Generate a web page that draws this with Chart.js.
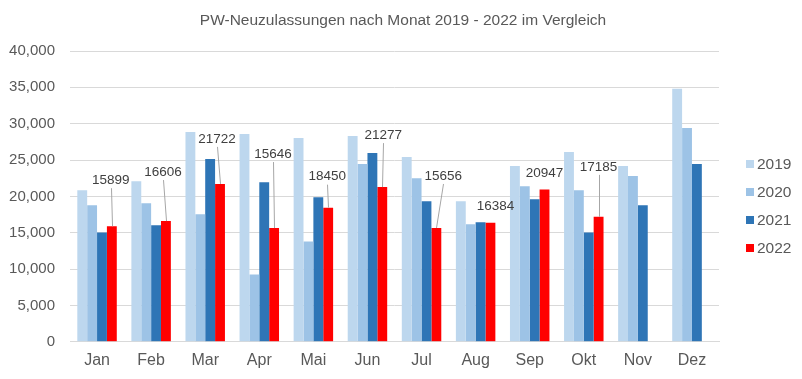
<!DOCTYPE html>
<html>
<head>
<meta charset="utf-8">
<script src="https://cdn.jsdelivr.net/npm/chart.js@4"></script>
<style>
  html, body { margin: 0; padding: 0; background: #ffffff; }
  #wrap { width: 802px; height: 379px; position: relative; }
</style>
</head>
<body>
<div id="wrap"><canvas id="c" width="802" height="379"></canvas></div>
<script>
// ---- data ----
const months = ['Jan','Feb','Mar','Apr','Mai','Jun','Jul','Aug','Sep','Okt','Nov','Dez'];
const seriesNames = ['2019','2020','2021','2022'];
const values2019 = [20850, 22100, 28860, 28590, 28030, 28310, 25410, 19330, 24170, 26100, 24170, 34800];
const values2020 = [18780, 19060, 17540, 9250, 13810, 24440, 22510, 16160, 21410, 20850, 22790, 29420];
const values2021 = [15050, 16020, 25130, 21960, 19890, 25960, 19330, 16430, 19610, 15050, 18780, 24440];
const values2022 = [15899, 16606, 21722, 15646, 18450, 21277, 15656, 16384, 20947, 17185, null, null];
const yTicks = [0, 5000, 10000, 15000, 20000, 25000, 30000, 35000, 40000];
const chartTitle = 'PW-Neuzulassungen nach Monat 2019 - 2022 im Vergleich';

// ---- styles ----
const colors = ['#BDD7EE', '#9DC3E6', '#2E75B6', '#FF0000'];
const textColor = '#595959';
const labelColor = '#404040';
const gridColor = '#D9D9D9';
const FONT = '"Liberation Sans", Arial, sans-serif';
// label placement relative to top centre of each 2022 bar [dx, dy, leader line]
const labelPlacement = [
  [-1, -46, true], [-3, -49, true], [-3, -45, true], [-1, -74, true], [-1, -31, true],
  [1, -52, true], [7, -52, true], [5, -16, false], [0, -16, false], [0, -50, true]
];

const titlePlugin = {
  id: 'customTitle',
  afterDraw(chart) {
    const ctx = chart.ctx;
    ctx.save();
    ctx.font = '15.5px ' + FONT;
    ctx.fillStyle = textColor;
    ctx.textAlign = 'center';
    ctx.textBaseline = 'middle';
    ctx.fillText(chartTitle, 403, 21);
    ctx.restore();
  }
};

const dataLabelPlugin = {
  id: 'dataLabels2022',
  afterDatasetsDraw(chart) {
    const ctx = chart.ctx;
    const meta = chart.getDatasetMeta(3);
    ctx.save();
    ctx.font = '13.5px ' + FONT;
    ctx.textAlign = 'center';
    ctx.textBaseline = 'middle';
    meta.data.forEach((bar, i) => {
      const v = values2022[i];
      if (v === null || v === undefined) return;
      const p = labelPlacement[i] || [0, -16, false];
      const lx = bar.x + p[0];
      const ly = bar.y + p[1];
      if (p[2]) {
        ctx.strokeStyle = '#A6A6A6';
        ctx.lineWidth = 1;
        ctx.beginPath();
        ctx.moveTo(Math.round(lx) + 0.5, ly + 8);
        ctx.lineTo(Math.round(bar.x) + 0.5, bar.y);
        ctx.stroke();
      }
      ctx.fillStyle = labelColor;
      ctx.fillText(String(v), lx, ly);
    });
    ctx.restore();
  }
};

const legendPlugin = {
  id: 'customLegend',
  afterDraw(chart) {
    const ctx = chart.ctx;
    ctx.save();
    ctx.font = '15.5px ' + FONT;
    ctx.textAlign = 'left';
    ctx.textBaseline = 'middle';
    seriesNames.forEach((name, i) => {
      const y = 164 + i * 28;
      ctx.fillStyle = colors[i];
      ctx.fillRect(746, y - 4, 8, 8);
      ctx.fillStyle = textColor;
      ctx.fillText(name, 757, y + 1);
    });
    ctx.restore();
  }
};

const seriesValues = [values2019, values2020, values2021, values2022];

new Chart(document.getElementById('c'), {
  type: 'bar',
  data: {
    labels: months,
    datasets: seriesNames.map((name, i) => ({
      label: name,
      data: seriesValues[i],
      backgroundColor: colors[i],
      borderWidth: 0,
      categoryPercentage: 0.73,
      barPercentage: 1.0
    }))
  },
  options: {
    responsive: false,
    animation: false,
    devicePixelRatio: 1,
    layout: { padding: { left: 0, right: 83, top: 51, bottom: 0 } },
    plugins: {
      legend: { display: false },
      tooltip: { enabled: false },
      title: { display: false }
    },
    scales: {
      x: {
        grid: { display: false, drawTicks: false },
        border: { display: true, color: gridColor, width: 1 },
        ticks: { color: textColor, font: { family: FONT, size: 16 }, padding: 9 }
      },
      y: {
        min: 0,
        max: 40000,
        afterBuildTicks(scale) { scale.ticks = yTicks.map(v => ({ value: v })); },
        afterFit(scale) { scale.width = 70; },
        grid: { color: gridColor, lineWidth: 1, drawTicks: false },
        border: { display: false },
        ticks: {
          color: textColor,
          font: { family: FONT, size: 15 },
          padding: 15,
          callback: v => Number(v).toLocaleString('en-US')
        }
      }
    }
  },
  plugins: [titlePlugin, dataLabelPlugin, legendPlugin]
});
</script>
</body>
</html>
